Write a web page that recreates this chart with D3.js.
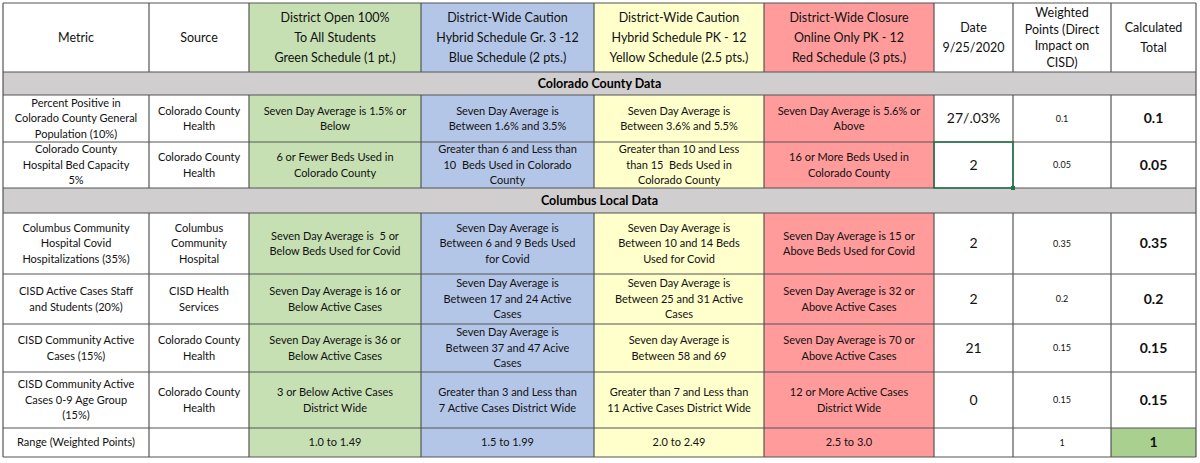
<!DOCTYPE html>
<html><head><meta charset="utf-8">
<script src="https://cdn.jsdelivr.net/npm/d3@7"></script>
<style>body{margin:0;background:#fff}svg{display:block}text{white-space:pre}</style>
</head><body><svg id="c" width="1200" height="463"></svg>
<script>
const headers = ["Metric","Source","District Open 100%\nTo All Students\nGreen Schedule (1 pt.)","District-Wide Caution\nHybrid Schedule Gr. 3 -12\nBlue Schedule (2 pts.)","District-Wide Caution\nHybrid Schedule PK - 12\nYellow Schedule (2.5 pts.)","District-Wide Closure\nOnline Only PK - 12\nRed Schedule (3 pts.)","Date\n9/25/2020","Weighted\nPoints (Direct\nImpact on\nCISD)","Calculated\nTotal"];
const metrics = ["Percent Positive in\nColorado County General\nPopulation (10%)","Colorado County\nHospital Bed Capacity\n5%","Columbus Community\nHospital Covid\nHospitalizations (35%)","CISD Active Cases Staff\nand Students (20%)","CISD Community Active\nCases (15%)","CISD Community Active\nCases 0-9 Age Group\n(15%)","Range (Weighted Points)"];
const sources = ["Colorado County\nHealth","Colorado County\nHealth","Columbus\nCommunity\nHospital","CISD Health\nServices","Colorado County\nHealth","Colorado County\nHealth",""];
const greenText = ["Seven Day Average is 1.5% or\nBelow","6 or Fewer Beds Used in\nColorado County","Seven Day Average is  5 or\nBelow Beds Used for Covid","Seven Day Average is 16 or\nBelow Active Cases","Seven Day Average is 36 or\nBelow Active Cases","3 or Below Active Cases\nDistrict Wide","1.0 to 1.49"];
const blueText = ["Seven Day Average is\nBetween 1.6% and 3.5%","Greater than 6 and Less than\n10  Beds Used in Colorado\nCounty","Seven Day Average is\nBetween 6 and 9 Beds Used\nfor Covid","Seven Day Average is\nBetween 17 and 24 Active\nCases","Seven Day Average is\nBetween 37 and 47 Acive\nCases","Greater than 3 and Less than\n7 Active Cases District Wide","1.5 to 1.99"];
const yellowText = ["Seven Day Average is\nBetween 3.6% and 5.5%","Greater than 10 and Less\nthan 15  Beds Used in\nColorado County","Seven Day Average is\nBetween 10 and 14 Beds\nUsed for Covid","Seven Day Average is\nBetween 25 and 31 Active\nCases","Seven day Average is\nBetween 58 and 69","Greater than 7 and Less than\n11 Active Cases District Wide","2.0 to 2.49"];
const redText = ["Seven Day Average is 5.6% or\nAbove","16 or More Beds Used in\nColorado County","Seven Day Average is 15 or\nAbove Beds Used for Covid","Seven Day Average is 32 or\nAbove Active Cases","Seven Day Average is 70 or\nAbove Active Cases","12 or More Active Cases\nDistrict Wide","2.5 to 3.0"];
const dateValues = ["27/.03%","2","2","2","21","0",""];
const weights = ["0.1","0.05","0.35","0.2","0.15","0.15","1"];
const totals = ["0.1","0.05","0.35","0.2","0.15","0.15","1"];
const sections = ["Colorado County Data","Columbus Local Data"];

const colEdges=[3,149,249,421,594,764,934,1013,1111,1196];
const fills=["#fff","#fff","#c6e0b4","#b4c6e7","#ffffcc","#ff9b9b","#fff","#fff","#fff"];
const rowEdges=[3,72,95,142,188,213,274,324,372,428,457];
const layout=[{t:"h"},{t:"s",i:0},{t:"r",i:0},{t:"r",i:1},{t:"s",i:1},{t:"r",i:2},{t:"r",i:3},{t:"r",i:4},{t:"r",i:5},{t:"r",i:6}];
const svg=d3.select("#c");
const x=d3.scaleOrdinal().domain(d3.range(10)).range(colEdges);
const y=d3.scaleOrdinal().domain(d3.range(11)).range(rowEdges);
const F="Lato, 'Open Sans', sans-serif";
function cell(c,r,txt,fill,opts={}){
  const x0=x(c),x1=x(c+1),y0=y(r),y1=y(r+1);
  svg.append("rect").attr("x",x0).attr("y",y0).attr("width",x1-x0).attr("height",y1-y0).attr("fill",fill);
  const lines=txt.split("\n"),fs=opts.fs||11,lh=opts.lh||fs*1.4;
  const t=svg.append("text").attr("font-family",F).attr("font-size",fs).attr("fill","#111")
    .attr("font-weight",opts.bold?"bold":"normal").attr("text-anchor","middle");
  lines.forEach((l,k)=>t.append("tspan").attr("x",(x0+x1)/2).attr("y",(y0+y1)/2+(k-(lines.length-1)/2)*lh+fs*0.35).text(l));
}
layout.forEach((L,r)=>{
  if(L.t==="h"){headers.forEach((h,c)=>cell(c,r,h,fills[c],{fs:12.5,lh:h.split("\n").length>3?16.5:20}));}
  else if(L.t==="s"){
    svg.append("rect").attr("x",x(0)).attr("y",y(r)).attr("width",x(9)-x(0)).attr("height",y(r+1)-y(r)).attr("fill","#d0cece");
    svg.append("text").attr("x",(x(0)+x(9))/2).attr("y",(y(r)+y(r+1))/2+4.5).attr("text-anchor","middle")
      .attr("font-family",F).attr("font-size",12.5).attr("font-weight","bold").text(sections[L.i]);
  } else {
    const i=L.i;
    const vals=[metrics[i],sources[i],greenText[i],blueText[i],yellowText[i],redText[i],dateValues[i],weights[i],totals[i]];
    vals.forEach((v,c)=>{
      let f=fills[c]; if(c===8&&i===6) f="#a9d08e";
      let o={fs:11,lh:15.5};
      if(c===6) o={fs:14}; if(c===7) o={fs:9}; if(c===8) o={fs:14,bold:true};
      cell(c,r,v,f,o);
    });
  }
});
const g=svg.append("g").attr("stroke","#555").attr("stroke-width",1.2);
rowEdges.forEach(v=>g.append("line").attr("x1",x(0)).attr("x2",x(9)).attr("y1",v).attr("y2",v));
layout.forEach((L,r)=>{ if(L.t==="s"){ [0,9].forEach(c=>g.append("line").attr("x1",x(c)).attr("x2",x(c)).attr("y1",y(r)).attr("y2",y(r+1))); } else {
  colEdges.forEach(v=>g.append("line").attr("x1",v).attr("x2",v).attr("y1",y(r)).attr("y2",y(r+1)));}});
svg.append("rect").attr("x",x(6)).attr("y",y(3)).attr("width",x(7)-x(6)).attr("height",y(4)-y(3)).attr("fill","none").attr("stroke","#217346").attr("stroke-width",1.5);
svg.append("rect").attr("x",x(7)-2).attr("y",y(4)-2).attr("width",4).attr("height",4).attr("fill","#217346");
</script></body></html>
